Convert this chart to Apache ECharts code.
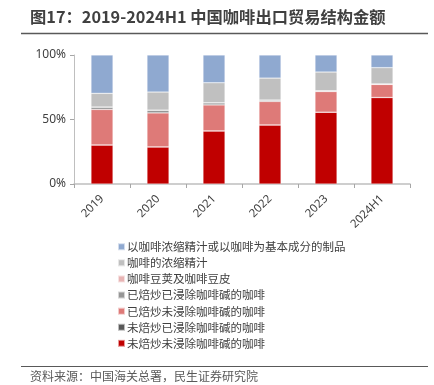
<!DOCTYPE html>
<html><head><meta charset="utf-8">
<script src="https://cdn.jsdelivr.net/npm/echarts@6/dist/echarts.min.js"></script>
<style>html,body{margin:0;padding:0;background:#fff}#c{width:434px;height:385px}</style>
</head><body><div id="c"></div>
<script>
const categories = ['2019','2020','2021','2022','2023','2024H1'];
const yTicks = ['0%','50%','100%'];
const s_red = [30.2, 28.7, 41.1, 45.7, 55.6, 67.0];        // 未焙炒未浸除咖啡碱的咖啡
const s_darkgray = [0.1, 0.1, 0.1, 0.1, 0.1, 0.1];        // 未焙炒已浸除咖啡碱的咖啡
const s_lightred = [27.5, 26.3, 20.1, 18.2, 16.0, 10.1];  // 已焙炒未浸除咖啡碱的咖啡
const s_gray = [1.8, 2.1, 1.6, 1.0, 0.5, 0.3];            // 已焙炒已浸除咖啡碱的咖啡
const s_pink = [0.1, 0.1, 0.1, 0.1, 0.1, 0.1];            // 咖啡豆荚及咖啡豆皮
const s_lightgray = [10.6, 14.0, 15.5, 17.0, 14.5, 12.6]; // 咖啡的浓缩精汁
const s_blue = [29.7, 28.7, 21.5, 17.9, 13.2, 9.8];       // 以咖啡浓缩精汁或以咖啡为基本成分的制品

const names = ['未焙炒未浸除咖啡碱的咖啡','未焙炒已浸除咖啡碱的咖啡','已焙炒未浸除咖啡碱的咖啡','已焙炒已浸除咖啡碱的咖啡','咖啡豆荚及咖啡豆皮','咖啡的浓缩精汁','以咖啡浓缩精汁或以咖啡为基本成分的制品'];
const colors = ['#C00000','#595959','#DE7A78','#969696','#E8B4B4','#C0C0C0','#8FA9D0'];
const datas = [s_red, s_darkgray, s_lightred, s_gray, s_pink, s_lightgray, s_blue];

const chart = echarts.init(document.getElementById('c'));
const series = names.map((n,i)=>({
  name:n, type:'bar', stack:'a', barWidth:22,
  data: datas[i],
  itemStyle:{color:colors[i], borderColor:'rgba(255,255,255,0.6)', borderWidth:0.5},
  emphasis:{disabled:true}
}));
chart.setOption({
  animation:false,
  textStyle:{fontFamily:'"Noto Sans CJK SC", sans-serif'},
  grid:{left:74, right:24, top:55, bottom:201},
  xAxis:{type:'category', data:categories,
    axisLine:{lineStyle:{color:'#BFBFBF', width:1.5}},
    axisTick:{show:true, length:4, lineStyle:{color:'#A6A6A6'}},
    axisLabel:{rotate:45, color:'#404040', fontSize:11.5, margin:13, fontFamily:'"Noto Sans", sans-serif'}},
  yAxis:{type:'value', min:0, max:100, interval:50,
    axisLine:{show:true, lineStyle:{color:'#BFBFBF'}},
    axisTick:{show:true, length:4, lineStyle:{color:'#A6A6A6'}},
    splitLine:{show:false},
    axisLabel:{color:'#404040', fontSize:12, margin:8, fontFamily:'"Noto Sans", sans-serif',
      formatter:(v)=>yTicks[Math.round(v/50)]}},
  legend:{orient:'vertical', left:112, top:236, itemWidth:7, itemHeight:7, itemGap:4.6,
    icon:'rect', data: names.slice().reverse(),
    textStyle:{color:'#404040', fontSize:11.5, padding:[0,0,0,-3]}},
  series: series,
  graphic:[
    {type:'text', left:30, top:9, style:{text:'图17：2019-2024H1 中国咖啡出口贸易结构金额', font:'bold 16.3px "Noto Sans CJK SC"', fill:'#404040'}},
    {type:'line', shape:{x1:21, y1:33.5, x2:428, y2:33.5}, style:{stroke:'#595959', lineWidth:1.5}},
    {type:'line', shape:{x1:21, y1:366.5, x2:428, y2:366.5}, style:{stroke:'#595959', lineWidth:1}},
    {type:'text', left:30, top:370, style:{text:'资料来源：中国海关总署，民生证券研究院', font:'12px "Noto Sans CJK SC"', fill:'#595959'}}
  ]
});
</script></body></html>
